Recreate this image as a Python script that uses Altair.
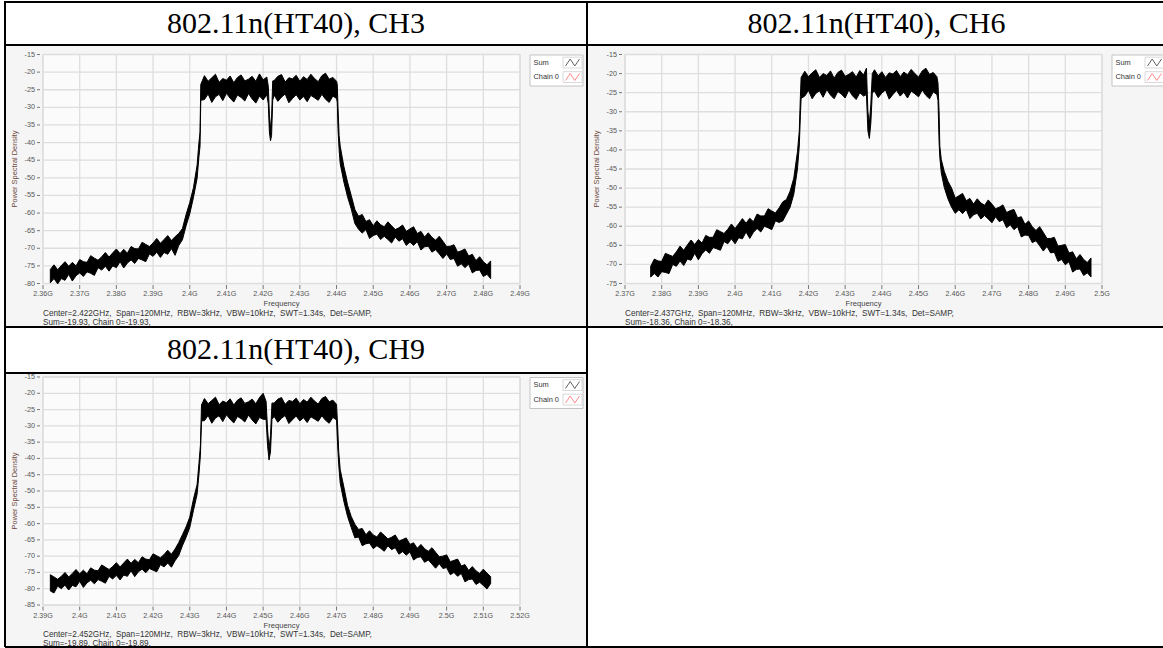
import altair as alt
import pandas as pd

# ---------------------------------------------------------------------------
# Spectrum traces: frequency (MHz) with the floor / peak of the noisy trace (dB)
# ---------------------------------------------------------------------------
ch3_freq = [
    2362, 2363, 2364, 2365, 2366, 2367, 2368, 2369, 2370, 2371,
    2372, 2373, 2374, 2375, 2376, 2377, 2378, 2379, 2380, 2381,
    2382, 2383, 2384, 2385, 2386, 2387, 2388, 2389, 2390, 2391,
    2392, 2393, 2394, 2395, 2396, 2397, 2398, 2399, 2400, 2401,
    2402, 2402.5, 2402.8, 2403,
    2404, 2405, 2406, 2407, 2408, 2409, 2410, 2411, 2412, 2413,
    2414, 2415, 2416, 2417, 2418, 2419, 2420, 2421,
    2421.4, 2421.7, 2422, 2422.3, 2422.6,
    2423, 2424, 2425, 2426, 2427, 2428, 2429, 2430, 2431, 2432,
    2433, 2434, 2435, 2436, 2437, 2438, 2439, 2440,
    2440.2, 2440.4, 2440.7,
    2441, 2442, 2443, 2444, 2445, 2446, 2447, 2448, 2449, 2450,
    2451, 2452, 2453, 2454, 2455, 2456, 2457, 2458, 2459, 2460,
    2461, 2462, 2463, 2464, 2465, 2466, 2467, 2468, 2469, 2470,
    2471, 2472, 2473, 2474, 2475, 2476, 2477, 2478, 2479, 2480,
    2481, 2482,
]
ch3_lo = [
    -79.8, -78.6, -80.1, -78.6, -79.1, -77.4, -79.3, -77.8, -77.0, -78.0,
    -76.7, -77.1, -77.7, -75.5, -76.2, -75.1, -76.5, -75.0, -75.5, -73.8,
    -75.6, -74.2, -73.3, -74.3, -72.9, -73.3, -73.8, -71.6, -72.3, -71.1,
    -72.6, -71.2, -71.7, -70.1, -72.0, -69.2, -67.6, -63.6, -60.2, -55.6,
    -50.2, -44.0, -41.0, -28.0,
    -27.8, -26.2, -28.6, -27.0, -26.3, -28.1, -26.0, -27.4, -28.5, -26.5,
    -27.2, -28.2, -26.1, -27.6, -28.8, -26.8, -27.9, -26.4,
    -29.0, -37.0, -39.5, -38.0, -28.0,
    -26.5, -28.3, -27.1, -26.2, -28.7, -27.5, -26.4, -27.9, -26.9, -28.4,
    -26.6, -27.3, -28.0, -26.3, -27.7, -28.6, -26.8, -27.5,
    -28.5, -36.0, -42.0,
    -46.0, -51.2, -55.4, -58.8, -63.0, -64.6, -65.7, -64.7, -67.2, -66.4,
    -66.0, -67.5, -66.6, -67.5, -68.5, -66.8, -68.0, -67.3, -69.2, -68.2,
    -69.2, -68.1, -70.5, -69.6, -69.4, -71.1, -70.4, -71.6, -72.9, -71.6,
    -73.2, -72.9, -75.1, -74.4, -75.5, -74.5, -77.0, -76.3, -76.2, -78.0,
    -77.4, -78.6,
]
ch3_hi = [
    -76.0, -74.7, -76.1, -74.9, -73.8, -75.1, -74.0, -75.0, -73.2, -73.8,
    -74.0, -72.1, -72.8, -73.4, -72.4, -71.2, -72.5, -71.3, -70.2, -71.5,
    -70.3, -71.4, -69.5, -70.1, -70.2, -68.3, -68.9, -69.5, -68.5, -67.2,
    -68.6, -67.5, -66.4, -67.8, -66.7, -65.8, -64.4, -60.4, -57.0, -52.8,
    -46.4, -40.0, -37.0, -23.5,
    -21.0, -22.6, -21.6, -20.6, -22.9, -21.8, -22.3, -21.1, -23.0, -21.5,
    -20.8, -22.5, -22.0, -21.2, -22.6, -20.5, -22.2, -21.4,
    -24.0, -32.0, -36.0, -33.0, -22.5,
    -22.4, -21.2, -20.7, -22.8, -21.6, -21.9, -20.9, -22.6, -21.3, -22.1,
    -20.6, -21.8, -22.7, -21.0, -20.3, -22.0, -21.5, -22.6,
    -23.5, -30.0, -38.0,
    -41.0, -46.8, -51.2, -55.0, -59.0, -60.9, -60.4, -62.4, -61.9, -63.6,
    -62.2, -63.3, -63.9, -62.5, -63.6, -64.7, -64.2, -63.4, -65.2, -64.5,
    -63.9, -65.8, -65.2, -66.8, -65.6, -66.9, -67.7, -66.6, -68.0, -69.5,
    -69.4, -69.0, -71.1, -70.7, -70.2, -72.2, -71.7, -73.5, -72.4, -73.8,
    -74.7, -73.6,
]

ch6_freq = [
    2377, 2378, 2379, 2380, 2381, 2382, 2383, 2384, 2385, 2386,
    2387, 2388, 2389, 2390, 2391, 2392, 2393, 2394, 2395, 2396,
    2397, 2398, 2399, 2400, 2401, 2402, 2403, 2404, 2405, 2406,
    2407, 2408, 2409, 2410, 2411, 2412, 2413, 2414, 2415, 2416,
    2417, 2417.5, 2417.8, 2418,
    2419, 2420, 2421, 2422, 2423, 2424, 2425, 2426, 2427, 2428,
    2429, 2430, 2431, 2432, 2433, 2434, 2435,
    2435.8, 2436.2, 2436.6, 2437, 2437.4,
    2438, 2439, 2440, 2441, 2442, 2443, 2444, 2445, 2446, 2447,
    2448, 2449, 2450, 2451, 2452, 2453, 2454, 2455,
    2455.3, 2455.6, 2455.8, 2456.2,
    2457, 2458, 2459, 2460, 2461, 2462, 2463, 2464, 2465, 2466,
    2467, 2468, 2469, 2470, 2471, 2472, 2473, 2474, 2475, 2476,
    2477, 2478, 2479, 2480, 2481, 2482, 2483, 2484, 2485, 2486,
    2487, 2488, 2489, 2490, 2491, 2492, 2493, 2494, 2495, 2496,
    2497,
]
ch6_lo = [
    -73.3, -72.4, -73.3, -71.9, -72.1, -72.4, -70.0, -70.5, -69.1, -70.3,
    -68.6, -68.9, -67.1, -68.8, -67.2, -66.2, -67.1, -65.6, -65.9, -66.3,
    -64.0, -64.6, -63.3, -64.6, -63.0, -63.3, -61.5, -63.2, -61.6, -60.6,
    -61.5, -60.0, -60.4, -60.9, -58.6, -59.0, -58.6, -56.8, -55.0, -51.6,
    -45.0, -39.0, -31.0, -26.5,
    -25.9, -24.4, -26.6, -25.2, -24.5, -26.2, -24.2, -25.6, -26.6, -24.7,
    -25.4, -26.4, -24.3, -25.8, -26.8, -25.0, -25.9,
    -25.5, -35.0, -37.0, -33.0, -25.0,
    -24.6, -26.3, -25.1, -24.3, -26.7, -25.5, -24.4, -25.9, -24.9, -26.4,
    -24.6, -25.3, -26.1, -24.3, -25.7, -26.6, -24.8, -25.5,
    -27.0, -38.0, -42.0, -46.0,
    -49.8, -52.8, -55.0, -56.6, -55.7, -56.7, -55.6, -58.0, -57.0, -56.6,
    -58.1, -57.2, -58.1, -59.1, -57.5, -58.8, -58.3, -60.4, -59.6, -60.9,
    -60.1, -62.8, -62.3, -62.4, -64.3, -63.8, -65.1, -66.5, -65.3, -67.0,
    -66.8, -69.2, -68.7, -70.1, -69.3, -72.0, -71.3, -71.2, -72.9, -72.2,
    -73.3,
]
ch6_hi = [
    -70.5, -68.6, -69.1, -69.2, -67.1, -67.5, -67.9, -66.7, -65.2, -66.3,
    -64.9, -63.6, -64.8, -63.5, -64.4, -62.4, -62.9, -62.9, -60.9, -61.4,
    -61.9, -60.8, -59.4, -60.6, -59.3, -58.0, -59.2, -57.9, -58.8, -56.8,
    -57.3, -57.3, -55.4, -56.0, -56.5, -55.2, -53.6, -53.0, -50.8, -47.4,
    -40.5, -35.0, -26.0, -21.0,
    -19.4, -20.8, -19.8, -19.0, -21.0, -20.0, -20.5, -19.3, -21.2, -19.7,
    -19.1, -20.7, -20.2, -19.5, -20.9, -19.2, -20.4,
    -18.6, -30.0, -33.0, -28.0, -20.0,
    -19.0, -20.6, -19.5, -21.0, -19.8, -20.1, -19.2, -20.8, -19.6, -20.3,
    -18.9, -20.0, -20.9, -19.3, -18.6, -20.2, -19.7, -20.8,
    -22.5, -30.0, -39.0, -42.5,
    -45.6, -48.2, -50.0, -52.6, -52.0, -51.4, -53.3, -52.7, -54.2, -52.8,
    -53.9, -54.5, -53.1, -54.2, -55.4, -55.0, -54.4, -56.4, -55.9, -55.6,
    -57.8, -57.5, -59.5, -58.6, -60.1, -61.1, -60.1, -61.6, -63.2, -63.2,
    -62.9, -65.2, -65.0, -64.8, -67.0, -66.7, -68.5, -67.4, -68.7, -69.5,
    -68.3,
]

ch9_freq = [
    2392, 2393, 2394, 2395, 2396, 2397, 2398, 2399, 2400, 2401,
    2402, 2403, 2404, 2405, 2406, 2407, 2408, 2409, 2410, 2411,
    2412, 2413, 2414, 2415, 2416, 2417, 2418, 2419, 2420, 2421,
    2422, 2423, 2424, 2425, 2426, 2427, 2428, 2429, 2430, 2431,
    2432, 2432.5, 2432.9, 2433.2,
    2434, 2435, 2436, 2437, 2438, 2439, 2440, 2441, 2442, 2443,
    2444, 2445, 2446, 2447, 2448, 2449, 2450,
    2450.8, 2451.2, 2451.6, 2452, 2452.4,
    2453, 2454, 2455, 2456, 2457, 2458, 2459, 2460, 2461, 2462,
    2463, 2464, 2465, 2466, 2467, 2468, 2469, 2470,
    2470.3, 2470.6,
    2471, 2472, 2473, 2474, 2475, 2476, 2477, 2478, 2479, 2480,
    2481, 2482, 2483, 2484, 2485, 2486, 2487, 2488, 2489, 2490,
    2491, 2492, 2493, 2494, 2495, 2496, 2497, 2498, 2499, 2500,
    2501, 2502, 2503, 2504, 2505, 2506, 2507, 2508, 2509, 2510,
    2511, 2512,
]
ch9_lo = [
    -80.7, -81.3, -79.2, -80.0, -78.9, -80.4, -79.0, -79.4, -77.7, -79.6,
    -78.2, -77.4, -78.5, -77.2, -77.7, -78.3, -76.2, -77.0, -75.9, -77.3,
    -75.8, -76.2, -74.5, -76.3, -74.8, -74.0, -75.1, -73.8, -74.3, -74.8,
    -72.6, -73.3, -72.1, -73.4, -71.4, -69.8, -66.8, -64.2, -61.2, -56.0,
    -51.0, -45.0, -39.0, -28.5,
    -28.4, -26.8, -29.2, -27.6, -26.9, -28.7, -26.6, -28.0, -29.1, -27.1,
    -27.8, -28.8, -26.7, -28.2, -29.4, -27.4, -28.0,
    -28.0, -36.0, -40.5, -38.0, -28.0,
    -27.1, -28.9, -27.7, -26.8, -29.3, -28.1, -27.0, -28.5, -27.5, -29.0,
    -27.2, -27.9, -28.6, -26.9, -28.3, -29.2, -27.4, -28.2,
    -36.0, -42.0,
    -47.6, -53.2, -57.8, -61.2, -64.4, -64.1, -66.8, -66.2, -66.0, -67.7,
    -66.8, -67.6, -68.5, -66.8, -68.0, -67.4, -69.4, -68.6, -69.7, -68.7,
    -71.2, -70.4, -70.2, -71.9, -71.2, -72.4, -73.7, -72.3, -73.8, -73.5,
    -75.7, -75.0, -76.2, -75.3, -77.9, -77.2, -77.0, -78.7, -78.0, -79.0,
    -80.1, -78.4,
]
ch9_hi = [
    -75.7, -76.4, -77.1, -76.2, -75.0, -76.4, -75.3, -74.1, -75.4, -74.3,
    -75.4, -73.6, -74.3, -74.5, -72.7, -73.4, -74.1, -73.2, -72.0, -73.3,
    -72.1, -70.9, -72.2, -71.0, -72.0, -70.2, -70.9, -71.1, -69.3, -69.9,
    -70.5, -69.5, -68.2, -69.4, -67.8, -65.8, -63.4, -61.0, -58.0, -52.5,
    -48.0, -41.5, -36.0, -23.6,
    -21.6, -23.2, -22.2, -21.2, -23.5, -22.4, -22.9, -21.7, -23.6, -22.1,
    -21.4, -23.1, -22.6, -21.8, -23.2, -21.3, -20.0,
    -22.5, -31.0, -37.0, -33.0, -23.0,
    -23.0, -21.8, -21.3, -23.4, -22.2, -22.5, -21.5, -23.2, -21.9, -22.7,
    -21.2, -22.4, -23.3, -21.6, -21.0, -22.6, -22.1, -23.4,
    -30.0, -38.0,
    -43.4, -48.8, -54.4, -57.8, -60.2, -61.8, -61.5, -63.4, -62.2, -63.5,
    -64.1, -62.6, -63.6, -64.7, -64.2, -63.5, -65.4, -64.9, -64.4, -66.4,
    -65.9, -67.6, -66.4, -67.7, -68.5, -67.4, -68.8, -70.2, -70.0, -69.6,
    -71.7, -71.3, -70.9, -73.0, -72.6, -74.4, -73.2, -74.5, -75.3, -74.0,
    -75.2, -76.3,
]

# Axis ticks and labels
ch3_xticks = [2360, 2370, 2380, 2390, 2400, 2410, 2420, 2430, 2440, 2450, 2460, 2470, 2480, 2490]
ch3_xlabels = ["2.36G", "2.37G", "2.38G", "2.39G", "2.4G", "2.41G", "2.42G", "2.43G",
               "2.44G", "2.45G", "2.46G", "2.47G", "2.48G", "2.49G"]
ch3_yticks = [-15, -20, -25, -30, -35, -40, -45, -50, -55, -60, -65, -70, -75, -80]
ch3_ylabels = ["-15", "-20", "-25", "-30", "-35", "-40", "-45", "-50", "-55", "-60",
               "-65", "-70", "-75", "-80"]

ch6_xticks = [2370, 2380, 2390, 2400, 2410, 2420, 2430, 2440, 2450, 2460, 2470, 2480, 2490, 2500]
ch6_xlabels = ["2.37G", "2.38G", "2.39G", "2.4G", "2.41G", "2.42G", "2.43G", "2.44G",
               "2.45G", "2.46G", "2.47G", "2.48G", "2.49G", "2.5G"]
ch6_yticks = [-15, -20, -25, -30, -35, -40, -45, -50, -55, -60, -65, -70, -75]
ch6_ylabels = ["-15", "-20", "-25", "-30", "-35", "-40", "-45", "-50", "-55", "-60",
               "-65", "-70", "-75"]

ch9_xticks = [2390, 2400, 2410, 2420, 2430, 2440, 2450, 2460, 2470, 2480, 2490, 2500, 2510, 2520]
ch9_xlabels = ["2.39G", "2.4G", "2.41G", "2.42G", "2.43G", "2.44G", "2.45G", "2.46G",
               "2.47G", "2.48G", "2.49G", "2.5G", "2.51G", "2.52G"]
ch9_yticks = [-15, -20, -25, -30, -35, -40, -45, -50, -55, -60, -65, -70, -75, -80, -85]
ch9_ylabels = ["-15", "-20", "-25", "-30", "-35", "-40", "-45", "-50", "-55", "-60",
               "-65", "-70", "-75", "-80", "-85"]

titles = ["802.11n(HT40), CH3", "802.11n(HT40), CH6", "802.11n(HT40), CH9"]
NB = " \u00a0"  # two-space gap that survives SVG whitespace collapsing
settings = [
    f"Center=2.422GHz,{NB}Span=120MHz,{NB}RBW=3kHz,{NB}VBW=10kHz,{NB}SWT=1.34s,{NB}Det=SAMP,",
    f"Center=2.437GHz,{NB}Span=120MHz,{NB}RBW=3kHz,{NB}VBW=10kHz,{NB}SWT=1.34s,{NB}Det=SAMP,",
    f"Center=2.452GHz,{NB}Span=120MHz,{NB}RBW=3kHz,{NB}VBW=10kHz,{NB}SWT=1.34s,{NB}Det=SAMP,",
]
readouts = ["Sum=-19.93, Chain 0=-19.93,", "Sum=-18.36, Chain 0=-18.36,",
            "Sum=-19.89, Chain 0=-19.89,"]
series = ["Sum", "Chain 0"]
series_colors = ["#222222", "#ff5a5a"]

# ---------------------------------------------------------------------------
SMALL = "Liberation Sans"
one = pd.DataFrame({"k": [0]})
ZIGZAG = "M-1,0.5L-0.33,-0.5L0.33,0.5L1,-0.5"


def rule(x, y, x2, y2, color="black", width=2.0):
    return alt.Chart(one).mark_rule(color=color, strokeWidth=width).encode(
        x=alt.value(x), x2=alt.value(x2), y=alt.value(y), y2=alt.value(y2))


def box(x, y, x2, y2, fill, stroke=None, width=1.0):
    kw = dict(fill=fill, strokeWidth=width)
    if stroke:
        kw["stroke"] = stroke
    return alt.Chart(one).mark_rect(**kw).encode(
        x=alt.value(x), x2=alt.value(x2), y=alt.value(y), y2=alt.value(y2))


def text(x, y, s, size, font=SMALL, color="#333333", align="left", angle=0):
    return alt.Chart(one).mark_text(
        fontSize=size, font=font, color=color, align=align, baseline="middle",
        angle=angle).encode(x=alt.value(x), y=alt.value(y), text=alt.value(s))


def panel(freq, lo, hi, xticks, xlabels, yticks, ylabels, xr, yr, setting, readout):
    xdom = [xticks[0], xticks[-1]]
    ydom = [yticks[-1], yticks[0]]
    xs = alt.Scale(domain=xdom, range=xr, nice=False, zero=False)
    ys = alt.Scale(domain=ydom, range=yr, nice=False, zero=False)
    xl, xrgt = xr
    ybot, ytop = yr

    trace = pd.DataFrame({"f": freq, "lo": lo, "hi": hi})
    xt = pd.DataFrame({"f": xticks, "lab": xlabels})
    yt = pd.DataFrame({"v": yticks, "lab": ylabels})

    plot_bg = alt.Chart(one).mark_rect(fill="#fbfbfb", stroke="#d6d6d6", strokeWidth=1).encode(
        x=alt.XDatum(xdom[0], scale=xs, axis=None), x2=alt.X2Datum(xdom[1]),
        y=alt.YDatum(ydom[0], scale=ys, axis=None), y2=alt.Y2Datum(ydom[1]))
    vgrid = alt.Chart(xt).mark_rule(color="#dedede", strokeWidth=1.3).encode(
        x=alt.X("f:Q", scale=xs, axis=None),
        y=alt.YDatum(ydom[0], scale=ys, axis=None), y2=alt.Y2Datum(ydom[1]))
    hgrid = alt.Chart(yt).mark_rule(color="#dedede", strokeWidth=1.3).encode(
        y=alt.Y("v:Q", scale=ys, axis=None),
        x=alt.XDatum(xdom[0], scale=xs, axis=None), x2=alt.X2Datum(xdom[1]))
    band = alt.Chart(trace).mark_area(
        color="black", stroke="black", strokeWidth=1.0, interpolate="linear").encode(
        x=alt.X("f:Q", scale=xs, axis=None),
        y=alt.Y("lo:Q", scale=ys, axis=None), y2="hi:Q")
    xtick = alt.Chart(xt).mark_rule(color="#777777", strokeWidth=1).encode(
        x=alt.X("f:Q", scale=xs, axis=None), y=alt.value(ybot + 1.5), y2=alt.value(ybot + 5.5))
    xlab = alt.Chart(xt).mark_text(
        fontSize=7.2, font=SMALL, color="#555555", baseline="middle").encode(
        x=alt.X("f:Q", scale=xs, axis=None), y=alt.value(ybot + 10.5), text="lab:N")
    ytick = alt.Chart(yt).mark_rule(color="#777777", strokeWidth=1).encode(
        y=alt.Y("v:Q", scale=ys, axis=None), x=alt.value(xl - 6), x2=alt.value(xl - 3))
    ylab = alt.Chart(yt).mark_text(
        fontSize=7.2, font=SMALL, color="#555555", align="right", baseline="middle").encode(
        y=alt.Y("v:Q", scale=ys, axis=None), x=alt.value(xl - 8), text="lab:N")

    ytitle = text(xl - 28, (ybot + ytop) / 2, "Power Spectral Density", 7.4,
                  color="#6e4a3e", align="center", angle=270)
    xtitle = text((xl + xrgt) / 2, ybot + 20.7, "Frequency", 7.6, color="#444444", align="center")
    note1 = text(xl, ybot + 30.2, setting, 8.2, color="#333333")
    note2 = text(xl, ybot + 39.0, readout, 8.2, color="#333333")

    # legend box at the top right of the plot
    lx, ly = xrgt + 10, ytop + 0.5
    legend = [box(lx, ly, lx + 53, ly + 31, "white", "#c4c4c4")]
    for i, (name, col) in enumerate(zip(series, series_colors)):
        cy = ly + 7.5 + i * 14.5
        legend.append(text(lx + 3.5, cy, name, 7.4, color="#333333"))
        legend.append(box(lx + 33, cy - 5.3, lx + 52, cy + 5.5, "white", "#d8d8d8"))
        legend.append(alt.Chart(one).mark_point(
            shape=ZIGZAG, filled=False, size=196, color=col, strokeWidth=1).encode(
            x=alt.value(lx + 42.5), y=alt.value(cy)))

    return alt.layer(plot_bg, vgrid, hgrid, band, xtick, xlab, ytick, ylab,
                     ytitle, xtitle, note1, note2, *legend)


# ---------------------------------------------------------------------------
# Table frame with the three captioned cells
# ---------------------------------------------------------------------------
LEFT, MID, RIGHT = 5, 587, 1163
TOP, ROW1, ROW2, ROW3, BOTTOM = 2, 45, 327, 373, 647

frame = [
    box(LEFT, TOP, RIGHT, BOTTOM, "white"),
    box(LEFT, ROW1, MID, ROW2, "#f5f5f5"),
    box(MID, ROW1, RIGHT, ROW2, "#f5f5f5"),
    box(LEFT, ROW3, MID, BOTTOM, "#f5f5f5"),
    text((LEFT + MID) / 2, 24, titles[0], 30, font="Liberation Serif", color="black", align="center"),
    text((MID + RIGHT + 3) / 2, 24, titles[1], 30, font="Liberation Serif", color="black", align="center"),
    text((LEFT + MID) / 2, 350, titles[2], 30, font="Liberation Serif", color="black", align="center"),
]

p3 = panel(ch3_freq, ch3_lo, ch3_hi, ch3_xticks, ch3_xlabels, ch3_yticks, ch3_ylabels,
           [43, 520], [283.5, 54.5], settings[0], readouts[0])
p6 = panel(ch6_freq, ch6_lo, ch6_hi, ch6_xticks, ch6_xlabels, ch6_yticks, ch6_ylabels,
           [625, 1102], [283.5, 54.5], settings[1], readouts[1])
p9 = panel(ch9_freq, ch9_lo, ch9_hi, ch9_xticks, ch9_xlabels, ch9_yticks, ch9_ylabels,
           [43, 520], [605, 377], settings[2], readouts[2])

lines = [
    rule(LEFT - 1, TOP, RIGHT, TOP),
    rule(LEFT, TOP, LEFT, BOTTOM),
    rule(MID, TOP, MID, BOTTOM),
    rule(LEFT, ROW1, RIGHT, ROW1),
    rule(LEFT, ROW2, RIGHT, ROW2),
    rule(LEFT, ROW3, MID, ROW3),
    rule(LEFT, BOTTOM, RIGHT, BOTTOM),
]

chart = alt.layer(*frame, p3, p6, p9, *lines).resolve_scale(
    x="independent", y="independent"
).properties(
    width=1163, height=648, padding=0, background="white",
    autosize=alt.AutoSizeParams(type="none"),
).configure_view(stroke=None)

chart.save("out.html", embed_options={"renderer": "svg", "actions": False})
